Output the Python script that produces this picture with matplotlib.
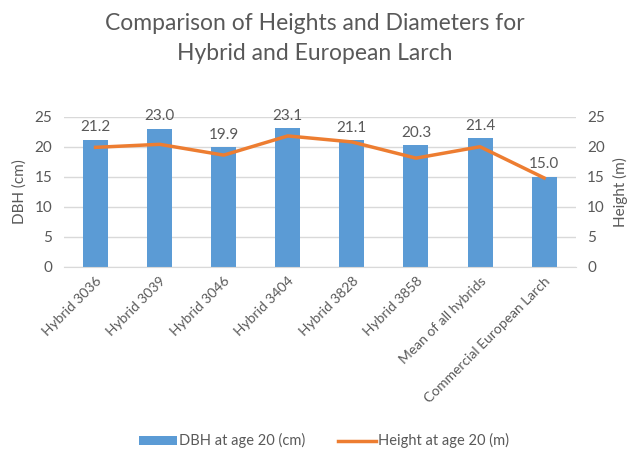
import matplotlib
matplotlib.use('Agg')
import matplotlib.pyplot as plt
import numpy as np

plt.rcParams['font.family'] = ['Lato', 'DejaVu Sans']

categories = ['Hybrid 3036', 'Hybrid 3039', 'Hybrid 3046', 'Hybrid 3404',
              'Hybrid 3828', 'Hybrid 3858', 'Mean of all hybrids',
              'Commercial European Larch']
dbh = [21.2, 23.0, 19.9, 23.1, 21.1, 20.3, 21.4, 15.0]
height = [19.9, 20.4, 18.6, 21.8, 20.8, 18.1, 20.0, 14.8]

blue = '#5B9BD5'
orange = '#ED7D31'
gray = '#595959'

fig = plt.figure(figsize=(6.29, 4.49), dpi=100)
ax = fig.add_axes([0.101, 0.406, 0.815, 0.334])
ax2 = ax.twinx()

x = np.arange(len(categories))
bars = ax.bar(x, dbh, width=0.39, color=blue, zorder=2, label='DBH at age 20 (cm)')
line, = ax2.plot(x, height, color=orange, lw=2.5, zorder=3, label='Height at age 20 (m)')

# data labels on the bars
for xi, v in zip(x, dbh):
    ax.text(xi, v + 0.9, f'{v:.1f}', ha='center', va='bottom', fontsize=11, color=gray)

for a in (ax, ax2):
    a.set_ylim(0, 25)
    a.set_yticks([0, 5, 10, 15, 20, 25])
    a.tick_params(axis='y', length=0, labelsize=11, labelcolor=gray, pad=8)
    for s in a.spines.values():
        s.set_visible(False)
ax.set_xlim(-0.5, len(categories) - 0.5)
ax.set_zorder(ax2.get_zorder() - 1)
ax2.patch.set_visible(False)
ax.yaxis.grid(True, color='#D9D9D9', lw=1, zorder=0)
ax.set_axisbelow(True)
ax.spines['bottom'].set_visible(True)
ax.spines['bottom'].set_color('#D9D9D9')

ax.set_xticks(x)
ax.set_xticklabels(categories, rotation=45, ha='right', rotation_mode='anchor',
                   fontsize=10, color=gray)
ax.tick_params(axis='x', length=0, pad=6)

ax.set_ylabel('DBH (cm)', fontsize=11, color=gray, labelpad=6)
ax2.set_ylabel('Height (m)', fontsize=11, color=gray, rotation=90, labelpad=6)

fig.suptitle('Comparison of Heights and Diameters for\nHybrid and European Larch',
             x=0.5, y=0.972, fontsize=16.5, color=gray, linespacing=1.55)

fig.legend([bars, line], ['DBH at age 20 (cm)', 'Height at age 20 (m)'],
           loc='center', bbox_to_anchor=(0.515, 0.018), ncol=2, frameon=False,
           fontsize=10.5, labelcolor=gray, handlelength=2.6, handleheight=0.6,
           columnspacing=2.2, handletextpad=0.15)

fig.savefig('out.png', dpi=100, facecolor='white')
